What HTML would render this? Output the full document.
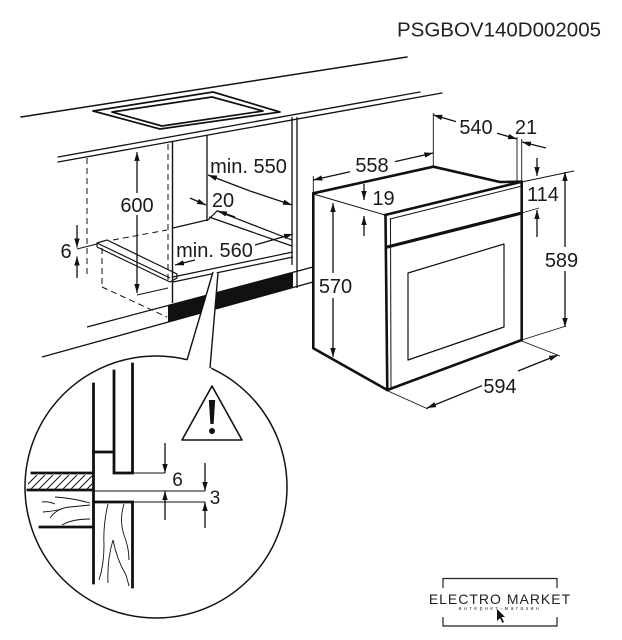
<!DOCTYPE html>
<html><head><meta charset="utf-8">
<style>
html,body{margin:0;padding:0;background:#fff;}
svg{display:block;}
text{font-family:"Liberation Sans",Arial,sans-serif;fill:#1a1a1a;}
</style></head>
<body>
<svg width="622" height="640" viewBox="0 0 622 640" xmlns="http://www.w3.org/2000/svg">
<defs>
<marker id="ah" markerUnits="userSpaceOnUse" viewBox="0 0 10 6" refX="10" refY="3" markerWidth="9" markerHeight="5.6" orient="auto">
<path d="M0,0 L10,3 L0,6 z" fill="#111"/>
</marker>
<clipPath id="hc"><rect x="28" y="475" width="64" height="15"/></clipPath>
</defs>

<!-- Title -->
<text x="397" y="36.5" font-size="20.5" style="fill:#222">PSGBOV140D002005</text>

<!-- Worktop -->
<g stroke="#111" fill="none" stroke-linecap="round">
<line x1="21" y1="117" x2="407" y2="57" stroke-width="1.5"/>
<line x1="58" y1="157" x2="420" y2="92" stroke-width="1.3"/>
<line x1="58" y1="162" x2="442" y2="93" stroke-width="1.3"/>
<!-- hob -->
<polygon points="93,111 213,92 280,112 160,129" stroke-width="1.7" stroke-linejoin="round"/>
<polygon points="112,112 212,97 263,111 162,126" stroke-width="1.7" stroke-linejoin="round"/>
</g>

<!-- Plinth black strip -->
<polygon points="168,305.5 293,272.2 293,287.5 168,322" fill="#111"/>

<!-- Cabinet -->
<g stroke="#111" fill="none" stroke-width="1.2">
<line x1="87" y1="327" x2="313" y2="267" stroke-width="1.3"/>
<line x1="42" y1="357" x2="313" y2="282" stroke-width="1.3"/>
<line x1="172.5" y1="141" x2="172.5" y2="303" stroke-width="1.4"/>
<line x1="207" y1="135" x2="207" y2="221" stroke-width="1.3"/>
<line x1="292" y1="117" x2="292" y2="265" stroke-width="1.3"/>
<line x1="297" y1="117" x2="297" y2="288" stroke-width="1.3"/>
<line x1="173" y1="228" x2="207" y2="220"/>
<!-- right rail -->
<polyline points="207,221 217,211 292,240"/>
<line x1="209" y1="217" x2="292" y2="246"/>
<!-- floor front -->
<line x1="173" y1="277" x2="293" y2="252"/>
<line x1="173" y1="282" x2="293" y2="257"/>
<!-- left rail -->
<polyline points="97,247 97,243 107,240 177,274 177,278 170,282 97,247"/>
<line x1="97" y1="243" x2="170" y2="278"/>
<!-- dashed -->
<g stroke-dasharray="6,4" stroke-width="1">
<line x1="87" y1="158" x2="87" y2="278"/>
<line x1="168" y1="144" x2="168" y2="282"/>
<line x1="102" y1="248" x2="102" y2="287"/>
<line x1="102" y1="287" x2="167" y2="317"/>
<line x1="113" y1="240" x2="167" y2="230"/>
</g>
<!-- 600 extension -->
<line x1="137" y1="295" x2="168" y2="288" stroke-width="1"/>
<!-- 6 extension -->
<line x1="77" y1="249" x2="97" y2="244" stroke-width="1"/>
</g>

<!-- Cabinet dims -->
<g stroke="#111" stroke-width="1.3" fill="none">
<line x1="137" y1="193" x2="137" y2="152" marker-end="url(#ah)"/>
<line x1="137" y1="215" x2="137" y2="293" marker-end="url(#ah)"/>
<line x1="77" y1="225" x2="77" y2="247.5" marker-end="url(#ah)"/>
<line x1="77" y1="278" x2="77" y2="256.5" marker-end="url(#ah)"/>
<line x1="250" y1="191" x2="208" y2="175" marker-end="url(#ah)"/>
<line x1="250" y1="191" x2="292" y2="205" marker-end="url(#ah)"/>
<line x1="190" y1="198" x2="206" y2="205" marker-end="url(#ah)"/>
<line x1="235" y1="217" x2="218" y2="211" marker-end="url(#ah)"/>
<line x1="195" y1="260" x2="175" y2="265" marker-end="url(#ah)"/>
<line x1="255" y1="245" x2="293" y2="234" marker-end="url(#ah)"/>
</g>
<g font-size="20" text-anchor="middle">
<text x="137" y="212">600</text>
<text x="66" y="258">6</text>
<text x="248.5" y="173">min. 550</text>
<text x="223" y="207">20</text>
<text x="214.5" y="257">min. 560</text>
</g>

<!-- Oven -->
<g stroke="#111" fill="none" stroke-linejoin="round" stroke-linecap="round">
<path d="M313.3,193.3 L313.3,348.3 L387.3,390" stroke-width="2.6"/>
<path d="M313.3,193.3 L433.3,166.7 L500,182 L521.7,181.7" stroke-width="2.6"/>
<line x1="313.3" y1="194" x2="385" y2="215" stroke-width="1"/>
<line x1="385" y1="215" x2="521.7" y2="181.7" stroke-width="2.6"/>
<line x1="390" y1="219" x2="520" y2="186.5" stroke-width="1"/>
<line x1="385.5" y1="215" x2="387.3" y2="390" stroke-width="2.6"/>
<line x1="390.5" y1="219" x2="391" y2="388" stroke-width="1"/>
<line x1="521.7" y1="181.7" x2="521.7" y2="340" stroke-width="2.6"/>
<line x1="387.3" y1="390" x2="521.7" y2="340" stroke-width="2.6"/>
<line x1="387.3" y1="247" x2="521.7" y2="213" stroke-width="3.2"/>
<polygon points="408,273 504,244 504,327 408,360" stroke-width="1.2"/>
</g>

<!-- Oven extension lines -->
<g stroke="#111" stroke-width="0.9" fill="none">
<line x1="313.3" y1="176" x2="313.3" y2="193"/>
<line x1="433.3" y1="113" x2="433.3" y2="167"/>
<line x1="517" y1="137" x2="517" y2="182"/>
<line x1="521.7" y1="139" x2="521.7" y2="182"/>
<line x1="521.7" y1="182" x2="574" y2="171"/>
<line x1="521.7" y1="213" x2="539" y2="208"/>
<line x1="521.7" y1="340" x2="566" y2="326"/>
<line x1="388" y1="391" x2="428" y2="409"/>
<line x1="521.7" y1="341" x2="560" y2="356"/>
</g>

<!-- Oven dims -->
<g stroke="#111" stroke-width="1.3" fill="none">
<line x1="350" y1="171.7" x2="313.3" y2="180" marker-end="url(#ah)"/>
<line x1="395" y1="161.6" x2="433.3" y2="153" marker-end="url(#ah)"/>
<line x1="456" y1="121.6" x2="433.3" y2="115" marker-end="url(#ah)"/>
<line x1="497" y1="133.3" x2="517" y2="139" marker-end="url(#ah)"/>
<line x1="546" y1="148" x2="522" y2="142" marker-end="url(#ah)"/>
<line x1="364" y1="184" x2="364" y2="200" marker-end="url(#ah)"/>
<line x1="364" y1="236" x2="364" y2="216" marker-end="url(#ah)"/>
<line x1="537" y1="158" x2="537" y2="176" marker-end="url(#ah)"/>
<line x1="537" y1="237" x2="537" y2="210" marker-end="url(#ah)"/>
<line x1="565" y1="247" x2="565" y2="172" marker-end="url(#ah)"/>
<line x1="565" y1="271" x2="565" y2="327" marker-end="url(#ah)"/>
<line x1="333" y1="273" x2="333" y2="203" marker-end="url(#ah)"/>
<line x1="333" y1="298" x2="333" y2="357" marker-end="url(#ah)"/>
<line x1="482" y1="385.7" x2="427" y2="408" marker-end="url(#ah)"/>
<line x1="518" y1="371" x2="558" y2="355" marker-end="url(#ah)"/>
</g>
<g font-size="20" text-anchor="middle">
<text x="372" y="172">558</text>
<text x="476" y="134">540</text>
<text x="526" y="134">21</text>
<text x="383.5" y="205">19</text>
<text x="543" y="201">114</text>
<text x="561.5" y="267">589</text>
<text x="335.5" y="293">570</text>
<text x="500" y="393">594</text>
</g>

<!-- Callout circle -->
<circle cx="156" cy="487" r="131" fill="#fff" stroke="#111" stroke-width="1.5"/>
<polygon points="213,272 218,273 211,371 186,363" fill="#fff"/>
<g stroke="#111" stroke-width="1.4" fill="none">
<line x1="213" y1="272" x2="187" y2="360"/>
<line x1="218" y1="273" x2="210" y2="368"/>
</g>

<!-- Circle content -->
<g stroke="#111" fill="none" stroke-linecap="square">
<line x1="93.5" y1="384" x2="93.5" y2="583" stroke-width="2.8"/>
<polyline points="114,371 114,473 132.5,473 132.5,364" stroke-width="2.8"/>
<line x1="93.5" y1="452" x2="113" y2="452" stroke-width="2.8"/>
<line x1="32" y1="473" x2="93" y2="473" stroke-width="2.8"/>
<line x1="28" y1="490" x2="93" y2="490" stroke-width="2.8"/>
<line x1="40" y1="527" x2="93" y2="527" stroke-width="2.8"/>
<polyline points="93.5,502 132.5,502 132.5,587" stroke-width="2.8"/>
</g>
<g clip-path="url(#hc)" stroke="#111" stroke-width="1">
<line x1="22" y1="490" x2="37" y2="475"/>
<line x1="30" y1="490" x2="45" y2="475"/>
<line x1="38" y1="490" x2="53" y2="475"/>
<line x1="46" y1="490" x2="61" y2="475"/>
<line x1="54" y1="490" x2="69" y2="475"/>
<line x1="62" y1="490" x2="77" y2="475"/>
<line x1="70" y1="490" x2="85" y2="475"/>
<line x1="78" y1="490" x2="93" y2="475"/>
<line x1="86" y1="490" x2="101" y2="475"/>
</g>
<g stroke="#111" stroke-width="0.9" fill="none">
<line x1="133" y1="473" x2="165" y2="473"/>
<line x1="94" y1="491" x2="205" y2="491"/>
<line x1="133" y1="502" x2="205" y2="502"/>
<!-- grain -->
<path d="M42,502 Q48,501 55,504"/>
<path d="M55,497 Q72,498 90,503"/>
<path d="M50,518 Q57,508 70,507 Q80,506 90,505"/>
<path d="M43,512 Q55,511 62,509"/>
<path d="M62,525 Q72,519 90,519"/>
<path d="M108,504 Q103,525 104,545 Q104,565 99,580"/>
<path d="M124,504 Q119,520 124,535 Q129,548 129,560"/>
<path d="M108,583 Q107,560 113,540 Q117,560 126,575 Q128,582 129,586"/>
</g>
<g stroke="#111" stroke-width="1.3" fill="none">
<line x1="165" y1="443" x2="165" y2="473" marker-end="url(#ah)"/>
<line x1="165" y1="520" x2="165" y2="491" marker-end="url(#ah)"/>
<line x1="205" y1="463" x2="205" y2="491" marker-end="url(#ah)"/>
<line x1="205" y1="528" x2="205" y2="502" marker-end="url(#ah)"/>
</g>
<g font-size="19" text-anchor="middle">
<text x="177.5" y="486">6</text>
<text x="215" y="504">3</text>
</g>

<!-- warning triangle -->
<polygon points="212,386 182,440 242,440" fill="#fff" stroke="#111" stroke-width="1.6" stroke-linejoin="round"/>
<path d="M208.8,400 L215.2,400 L213.6,424 L210.4,424 z" fill="#111"/>
<circle cx="212" cy="431" r="3" fill="#111"/>

<!-- Logo -->
<g stroke="#222" stroke-width="1.2" fill="none">
<path d="M443,588 L443,578.5 L557,578.5 L557,588"/>
<path d="M443,617 L443,626 L557,626 L557,617"/>
</g>
<text x="500" y="604" font-size="14" text-anchor="middle" letter-spacing="1" style="fill:#222">ELECTRO MARKET</text>
<text x="500" y="610" font-size="5" text-anchor="middle" letter-spacing="2.6" style="fill:#333">интернет-магазин</text>
<path d="M497,609 L497,621 L500,618 L502.5,623 L504,622 L501.5,617 L505,617 z" fill="#111"/>
</svg>
</body></html>
